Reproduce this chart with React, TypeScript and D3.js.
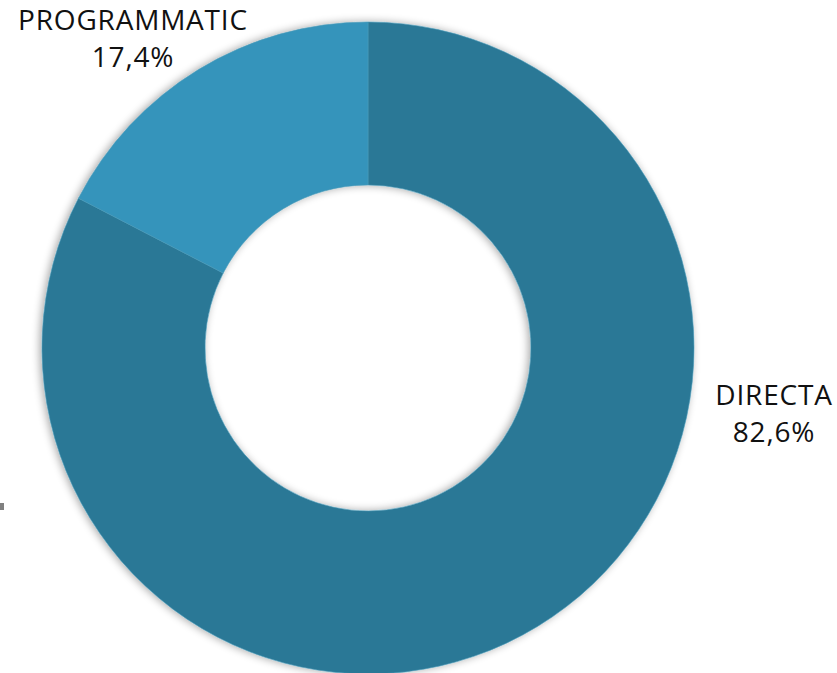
import React from "react";
import * as d3 from "d3";

const categories = ["DIRECTA", "PROGRAMMATIC"];
const values = [82.6, 17.4];
const valueLabels = ["82,6%", "17,4%"];
const colors = ["#2a7896", "#3594bb"];

const W = 837;
const H = 673;

export default function App() {
  const cx = 368;
  const cy = 348;
  const outerR = 326;
  const innerR = 163;
  const pie = d3.pie<number>().sort(null).value((d) => d)(values);
  const arc = d3.arc<d3.PieArcDatum<number>>().innerRadius(innerR).outerRadius(outerR);
  const labelPos = [
    { x: 774, y1: 405, y2: 442 },
    { x: 133, y1: 30, y2: 67 },
  ];
  return (
    <svg
      width={W}
      height={H}
      style={{ position: "absolute", left: 0, top: 0, display: "block", background: "#fff" }}
    >
      <defs>
        <filter id="sh" x="-10%" y="-10%" width="120%" height="120%">
          <feGaussianBlur in="SourceAlpha" stdDeviation="4" />
          <feOffset dx="-2" dy="0" result="b" />
          <feComponentTransfer>
            <feFuncA type="linear" slope="0.35" />
          </feComponentTransfer>
          <feMerge>
            <feMergeNode />
            <feMergeNode in="SourceGraphic" />
          </feMerge>
        </filter>
      </defs>
      <g transform={`translate(${cx},${cy})`} filter="url(#sh)">
        {pie.map((p, i) => (
          <path key={categories[i]} d={arc(p) || ""} fill={colors[i]} stroke="#4a9ab8" strokeWidth={0.6} />
        ))}
      </g>
      <rect x={0} y={503} width={4} height={7} fill="#808080" />
      {categories.map((c, i) => (
        <g key={c} fontFamily="Open Sans, Lato, sans-serif" fontSize={28} letterSpacing={0.8} fill="#111" textAnchor="middle">
          <text x={labelPos[i].x} y={labelPos[i].y1}>{c}</text>
          <text x={labelPos[i].x} y={labelPos[i].y2}>{valueLabels[i]}</text>
        </g>
      ))}
    </svg>
  );
}
